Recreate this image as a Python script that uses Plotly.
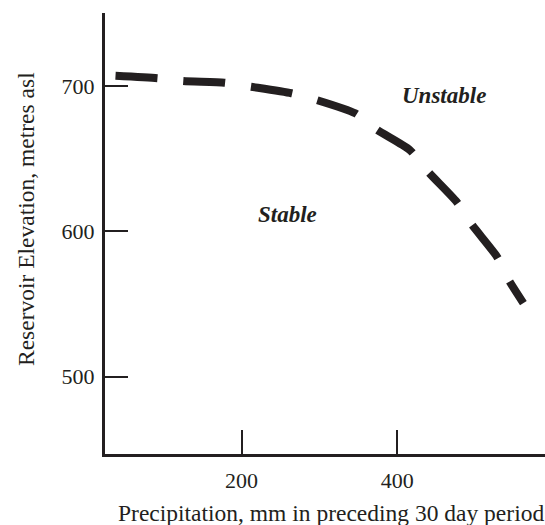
import plotly.graph_objects as go

# Data
precip_mm = [38, 92, 125, 178, 212, 264, 296, 346, 374, 416, 441, 476, 496, 528, 543, 562]
elevation_m = [707.0, 705.3, 703.4, 702.3, 699.5, 695.0, 690.4, 681.2, 669.8, 656.0, 640.2, 620.5, 604.5, 582.7, 566.7, 550.7]

x_ticks = [200, 400]
y_ticks = [500, 600, 700]
x_range = [24.5, 589.8]
y_range = [446.9, 750.2]

region_labels = ["Stable", "Unstable"]
region_x = [259.5, 460.4]
region_y = [611.3, 693.5]

INK = "#231f20"
FONT = "Liberation Serif, Times New Roman, serif"

W, H = 545, 525
L, R, T, B = 105, 0, 13, 71
PW, PH = W - L - R, H - T - B


def px_to_paper(px, py):
    return (px - L) / PW, 1 - (py - T) / PH


fig = go.Figure()
fig.add_trace(go.Scatter(
    x=precip_mm, y=elevation_m, mode="lines",
    line=dict(color=INK, width=8, dash="42px,26px", shape="spline", smoothing=0.6),
    hoverinfo="skip", showlegend=False,
))

for lab, xx, yy in zip(region_labels, region_x, region_y):
    fig.add_annotation(x=xx, y=yy, xref="x", yref="y", text=f"<b><i>{lab}</i></b>",
                       showarrow=False, font=dict(family=FONT, size=23, color=INK),
                       xanchor="center", yanchor="middle")

xt_x, xt_y = px_to_paper(331, 513)
fig.add_annotation(x=xt_x, y=xt_y, xref="paper", yref="paper",
                   text="Precipitation, mm in preceding 30 day period", showarrow=False,
                   font=dict(family=FONT, size=23.5, color=INK), xanchor="center", yanchor="middle")
yt_x, yt_y = px_to_paper(26, 219)
fig.add_annotation(x=yt_x, y=yt_y, xref="paper", yref="paper",
                   text="Reservoir Elevation, metres asl", showarrow=False, textangle=-90,
                   font=dict(family=FONT, size=23.5, color=INK), xanchor="center", yanchor="middle")

axis_common = dict(showgrid=False, zeroline=False, showline=True, linecolor=INK, linewidth=3,
                   ticks="inside", tickcolor=INK, tickwidth=1.5, mirror=False, automargin=False,
                   tickfont=dict(family=FONT, size=22, color=INK))

fig.update_xaxes(range=x_range, tickvals=x_ticks, ticklen=24, ticklabelstandoff=5, **axis_common)
fig.update_yaxes(range=y_range, tickvals=y_ticks, ticklen=23, ticklabelstandoff=3, **axis_common)

fig.update_layout(
    width=W, height=H,
    margin=dict(l=L, r=R, t=T, b=B, autoexpand=False),
    plot_bgcolor="white", paper_bgcolor="white",
    font=dict(family=FONT, color=INK),
)

fig.write_html("out.html", config={"displayModeBar": False},
               post_script="document.body.style.margin='0';document.body.style.overflow='hidden';")
